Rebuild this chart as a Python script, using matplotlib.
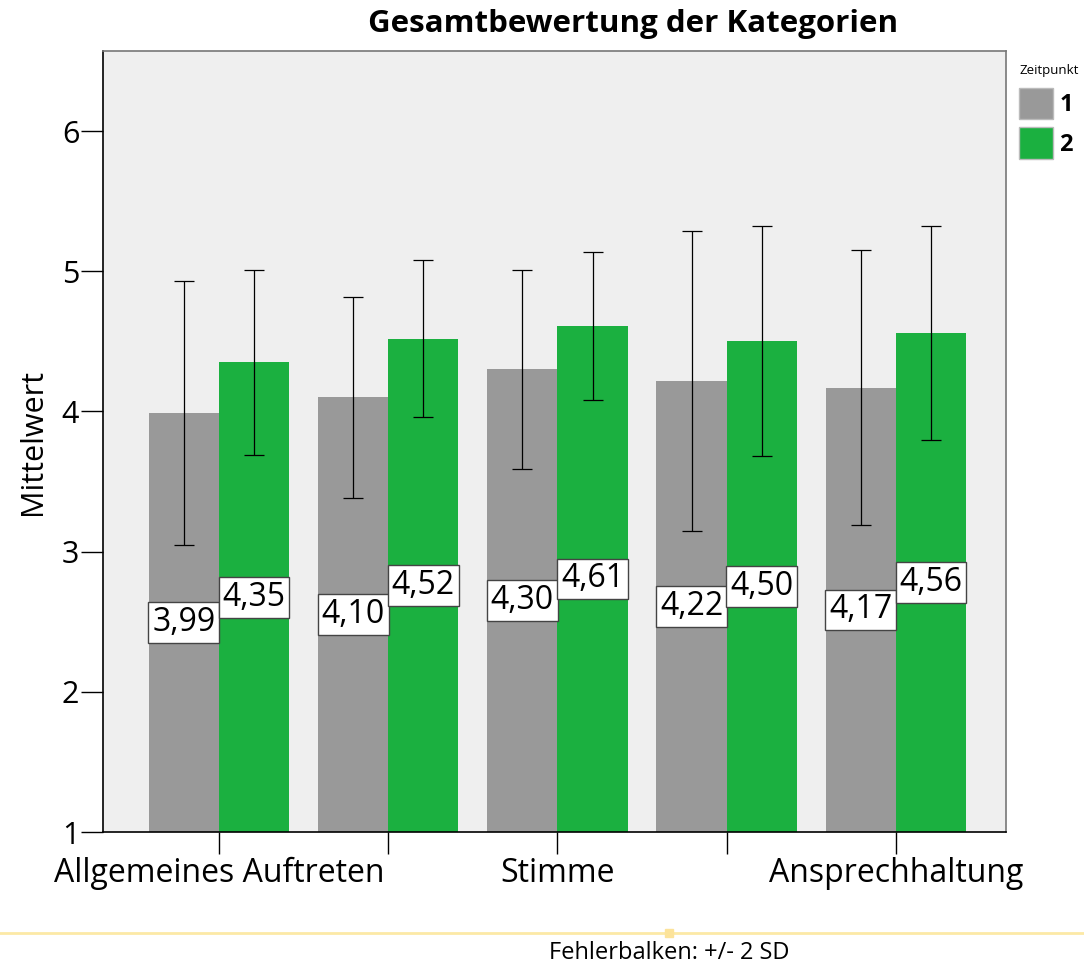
import matplotlib
matplotlib.use("Agg")
import matplotlib.pyplot as plt
import numpy as np
from matplotlib.lines import Line2D
from matplotlib.patches import Patch

categories = ["Allgemeines Auftreten", "Kategorie 2", "Stimme", "Kategorie 4", "Ansprechhaltung"]
shown_labels = ["Allgemeines Auftreten", "", "Stimme", "", "Ansprechhaltung"]
mean_t1 = [3.99, 4.10, 4.30, 4.22, 4.17]
mean_t2 = [4.35, 4.52, 4.61, 4.50, 4.56]
err_t1 = [0.47, 0.36, 0.355, 0.535, 0.49]
err_t2 = [0.33, 0.28, 0.265, 0.41, 0.38]
series_names = ["1", "2"]
colors = ["#999999", "#1BB040"]

plt.rcParams['font.family'] = ['Open Sans', 'DejaVu Sans']

fig = plt.figure(figsize=(10.84, 9.67), dpi=100)
ax = fig.add_axes([0.095, 0.1396, 0.833, 0.8074])
ax.set_facecolor("#EFEFEF")

x = np.arange(1, len(categories) + 1)
w = 0.415
base = 1.0
for i, (vals, errs, col) in enumerate([(mean_t1, err_t1, colors[0]), (mean_t2, err_t2, colors[1])]):
    xpos = x + (i - 0.5) * w
    vals = np.array(vals)
    ax.bar(xpos, vals - base, bottom=base, width=w, color=col, edgecolor='none', zorder=2)
    ax.errorbar(xpos, vals, yerr=2 * np.array(errs), fmt='none', ecolor='black',
                elinewidth=0.9, capsize=7, capthick=0.9, zorder=3)
    for xp, v in zip(xpos, vals):
        ax.text(xp, (base + v) / 2, f"{v:.2f}".replace('.', ','), ha='center', va='center',
                fontsize=23, color='black', zorder=4,
                bbox=dict(boxstyle='square,pad=0.12', facecolor='white', edgecolor='#444444', linewidth=1.0))

ax.set_xlim(1 - 0.685, 5 + 0.65)
ax.set_ylim(1, 6.57)
ax.set_yticks([1, 2, 3, 4, 5, 6])
ax.set_yticklabels(["1", "2", "3", "4", "5", "6"], fontsize=22)
ax.set_xticks(x)
ax.set_xticklabels(shown_labels, fontsize=23)
ax.tick_params(axis='both', direction='out', length=16, width=1.0, color='black')
ax.tick_params(axis='x', pad=2)
ax.tick_params(axis='y', pad=1)
for s in ['left', 'bottom']:
    ax.spines[s].set_color('black')
    ax.spines[s].set_linewidth(1.2)
for s in ['top', 'right']:
    ax.spines[s].set_color('#777777')
    ax.spines[s].set_linewidth(1.2)

ax.set_ylabel("Mittelwert", fontsize=22, labelpad=10)

fig.text(633 / 1084, 1 - 24 / 967, "Gesamtbewertung der Kategorien", ha='center', va='center',
         fontsize=22.5, fontweight='bold')

handles = [Patch(facecolor=colors[0], edgecolor='#bbbbbb'), Patch(facecolor=colors[1], edgecolor='#bbbbbb')]
leg = fig.legend(handles, series_names, title="Zeitpunkt", loc='upper left',
                 bbox_to_anchor=(1019 / 1084, 1 - 64 / 967), frameon=False,
                 fontsize=17, title_fontsize=9.5, handlelength=1.45, handleheight=1.65,
                 handletextpad=0.25, labelspacing=0.35, borderpad=0.0, borderaxespad=0.0)
leg._legend_box.align = "left"
leg._legend_box.sep = 8
for t in leg.get_texts():
    t.set_fontweight('bold')

# footer line and text
fig.add_artist(Line2D([0, 1], [1 - 933 / 967, 1 - 933 / 967], transform=fig.transFigure,
                      color='#FCE9A6', linewidth=2))
fig.add_artist(Line2D([669 / 1084], [1 - 933 / 967], transform=fig.transFigure,
                      marker='s', markersize=6, color='#FCE39A', linestyle='none'))
fig.text(669 / 1084, 1 - 953 / 967, "Fehlerbalken: +/- 2 SD", ha='center', va='center',
         fontsize=17)

fig.savefig("out.png", dpi=100)
